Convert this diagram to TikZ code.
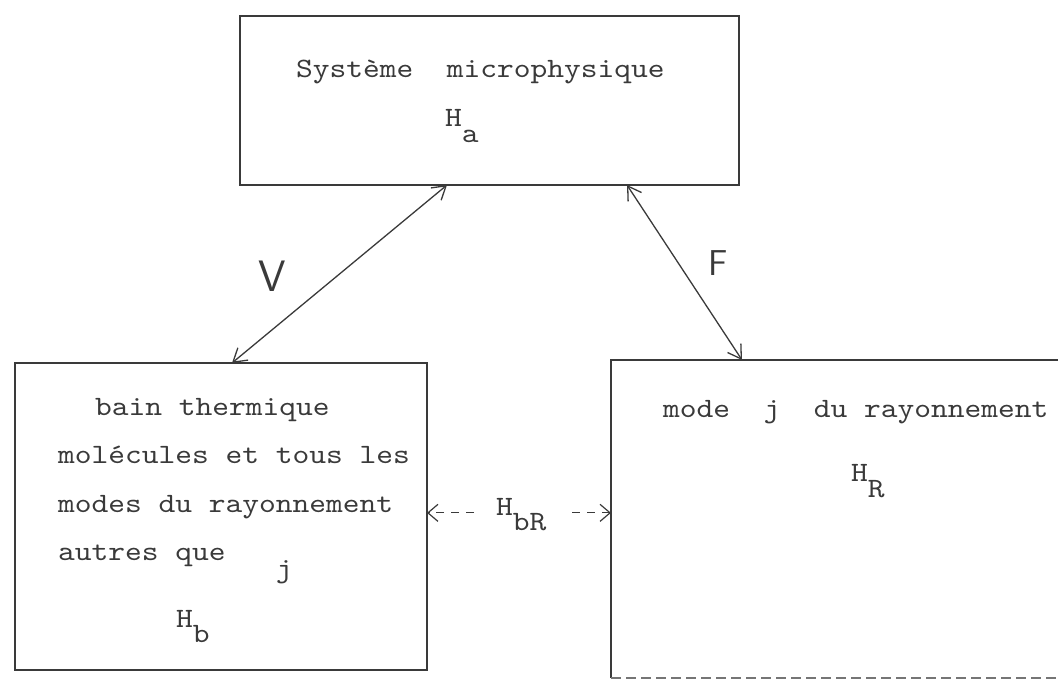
\documentclass[tikz,border=0pt]{standalone}
\usepackage{fontspec}
\usetikzlibrary{arrows.meta,calc}
% typewriter face, widened to a typewriter pitch
\newfontfamily\tw{lmmono10-regular.otf}[FakeStretch=1.14]
\definecolor{ink}{RGB}{58,58,58}
\newcommand\dropped[2][15pt]{\raisebox{-#1}{#2}}
\begin{document}
\begin{tikzpicture}[x=1pt,y=-1pt,
  every node/.style={inner sep=0pt, outer sep=0pt},
  frame/.style={rectangle, draw=ink, line width=1.5pt, anchor=north west},
  typed/.style={anchor=base west, text=ink, font=\tw\fontsize{28}{34}\selectfont},
  hand/.style={text=ink, font=\sffamily\fontsize{#1}{#1}\selectfont},
  couple/.style={draw=ink, line width=1.3pt,
    {Straight Barb[length=13pt,width=16pt]}-{Straight Barb[length=13pt,width=16pt]}},
  weak/.style={draw=ink, line width=1.2pt, dash pattern=on 8pt off 7pt,
    -{Straight Barb[length=10pt,width=17pt]}}]
\useasboundingbox (0,0) rectangle (1058,681);

% --- boxes ---
\node[frame, minimum width=499pt, minimum height=169pt] (sys) at (240,16) {};
\node[frame, minimum width=412pt, minimum height=307pt] (bain) at (15,363) {};
\node[anchor=north west, minimum width=447pt, minimum height=318pt] (mode) at (611,360) {};
\draw[ink, line width=1.5pt] (mode.north east) -- (mode.north west) -- (mode.south west);
\draw[ink!70, line width=1.2pt, dash pattern=on 10pt off 5pt] (mode.south west) -- (mode.south east);

% --- texts of the top box ---
\node[typed] (sysname) at (296,77) {Système\ \ microphysique};
\node[typed] (ha) at (445,126) {H\dropped[16pt]{a}};

% --- texts of the thermal bath ---
\node[typed] (b1) at (95,415) {bain thermique};
\node[typed] (b2) at (58,463) {molécules et tous les};
\node[typed] (b3) at (58,512) {modes du rayonnement};
\node[typed] (b4) at (58,560) {autres que\ \ \ \dropped[17pt]{j}};
\node[typed] (hb) at (176,627) {H\dropped{b}};

% --- texts of the radiation mode ---
\node[typed] (m1) at (663,417) {mode\ \ j\ \ du rayonnement};
\node[typed] (hr) at (851,481) {H\dropped[16pt]{R}};

% --- couplings ---
\draw[couple] ([xshift=217pt]bain.north west) -- ([xshift=207pt]sys.south west);
\draw[couple] ([xshift=387pt]sys.south west) -- ([xshift=131pt]mode.north west);
\node[hand=44] (v) at (272,276) {V};
\node[hand=36] (f) at (718,263) {F};

% --- weak coupling between bath and mode ---
\node[typed] (hbr) at (496,515) {H\dropped{bR}};
\draw[weak] ([xshift=-22pt]hbr.mid west) -- (hbr.mid west -| bain.east);
\draw[weak] ([xshift=26pt]hbr.mid east) -- (hbr.mid east -| mode.west);
\end{tikzpicture}
\end{document}
